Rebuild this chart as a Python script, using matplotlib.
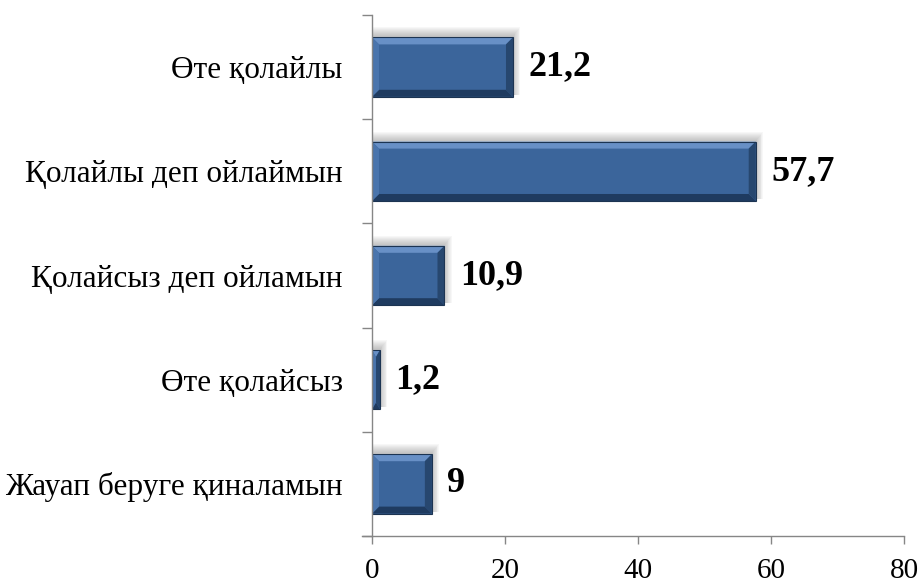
import numpy as np
import matplotlib
matplotlib.use("Agg")
import matplotlib.pyplot as plt
from matplotlib.patches import Polygon, Rectangle

categories = ["Жауап беруге қиналамын", "Өте қолайсыз", "Қолайсыз деп ойламын",
              "Қолайлы деп ойлаймын", "Өте қолайлы"]
values = [9, 1.2, 10.9, 57.7, 21.2]
value_labels = ["9", "1,2", "10,9", "57,7", "21,2"]
x_ticks = [0, 20, 40, 60, 80]

plt.rcParams['font.family'] = ['Liberation Serif', 'DejaVu Serif']

fig = plt.figure(figsize=(9.21, 5.80), dpi=100)
ax = fig.add_axes([372 / 921, 1 - 536 / 580, 532 / 921, 521 / 580])

ypos = np.arange(len(categories))
bars = ax.barh(ypos, values, height=0.57, color="#3b659b", zorder=3)

ax.set_xlim(0, 80)
ax.set_ylim(-0.5, len(categories) - 0.5)

# bevel sizes in data units (about 7 px)
px_x = 80 / 532
px_y = len(categories) / 521
bev_x = 7 * px_x
bev_y = 7 * px_y

for b in bars:
    x0, y0, w, h = b.get_x(), b.get_y(), b.get_width(), b.get_height()
    x1, y1 = x0 + w, y0 + h
    bx = min(bev_x, w / 2)
    by = min(bev_y, h / 2)
    # soft shadow, up and to the right
    for i in range(1, 10):
        ax.add_patch(Rectangle((x0, y0 + 2 * px_y), w + i * 0.8 * px_x, h + (i - 1) * px_y,
                               color="#808080", alpha=0.06, lw=0, zorder=2))
    # bevel faces (y axis: larger y is up on screen)
    ax.add_patch(Polygon([(x0, y1), (x1, y1), (x1 - bx, y1 - by), (x0 + bx, y1 - by)],
                         closed=True, color="#6890c6", lw=0, zorder=4))
    ax.add_patch(Polygon([(x0, y0), (x1, y0), (x1 - bx, y0 + by), (x0 + bx, y0 + by)],
                         closed=True, color="#1f3b60", lw=0, zorder=4))
    ax.add_patch(Polygon([(x0, y0), (x0, y1), (x0 + bx, y1 - by), (x0 + bx, y0 + by)],
                         closed=True, color="#4a75ad", lw=0, zorder=4))
    ax.add_patch(Polygon([(x1, y0), (x1, y1), (x1 - bx, y1 - by), (x1 - bx, y0 + by)],
                         closed=True, color="#27476f", lw=0, zorder=4))
    ax.add_patch(Rectangle((x0, y0), w, h, fill=False, ec="#1c3452", lw=0.8, zorder=5))

for y, v, lab in zip(ypos, values, value_labels):
    ax.annotate(lab, (v, y), xytext=(11, 0), textcoords="offset points",
                ha="left", va="center", fontsize=26, fontweight="bold", color="black")

ax.set_yticks(ypos)
ax.set_yticklabels(categories, fontsize=22.5)
ax.set_yticks(np.arange(len(categories) + 1) - 0.5, minor=True)
ax.tick_params(axis="y", which="major", length=0, pad=21)
ax.tick_params(axis="y", which="minor", length=7, color="#868686", width=1)

ax.set_xticks(x_ticks)
ax.set_xticklabels([str(t) for t in x_ticks], fontsize=21)
ax.tick_params(axis="x", length=6, color="#868686", width=1, pad=10)

for s in ["top", "right"]:
    ax.spines[s].set_visible(False)
for s in ["left", "bottom"]:
    ax.spines[s].set_color("#868686")
    ax.spines[s].set_linewidth(1)
    ax.spines[s].set_zorder(6)
# x axis line reaches past the y axis like the reference
ax.spines["bottom"].set_bounds(-10 * px_x, 80)
ax.spines["bottom"].set_clip_on(False)

fig.savefig("out.png", dpi=100)
